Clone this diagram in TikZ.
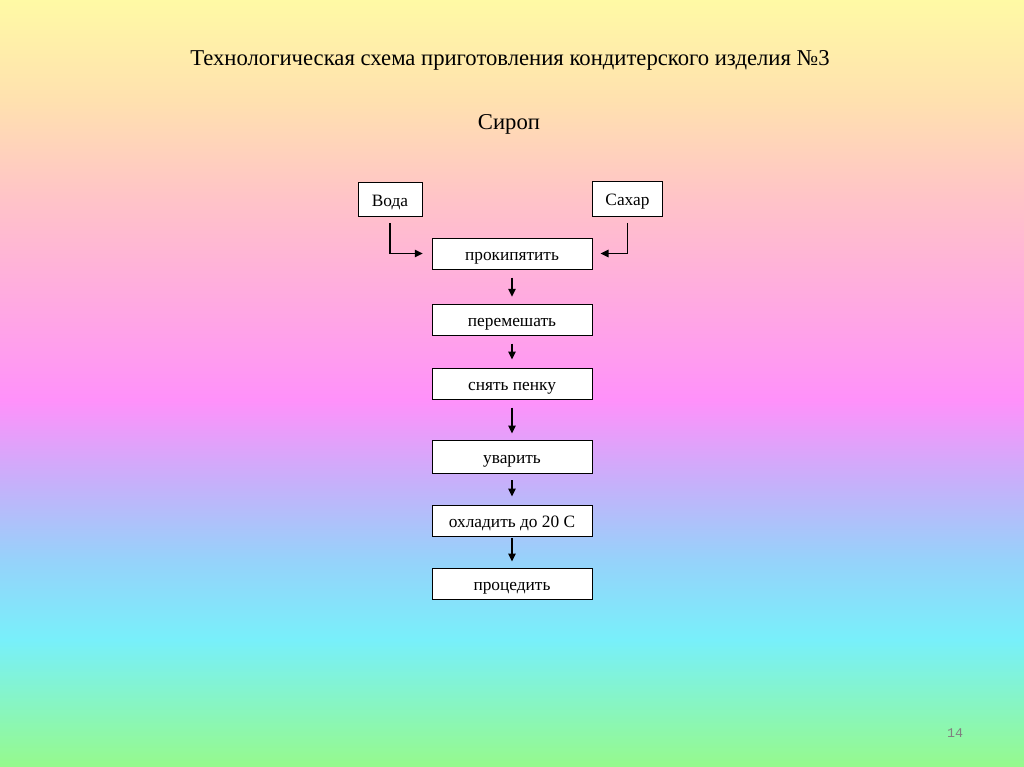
\documentclass[tikz,border=0pt]{standalone}
\usepackage{fontspec}
\setmainfont{Liberation Serif}
\newfontfamily\pagenofont{Liberation Mono}
\usetikzlibrary{arrows.meta,positioning}

\definecolor{bgYellow}{RGB}{255,250,165}
\definecolor{bgPeach}{RGB}{255,225,175}
\definecolor{bgRose}{RGB}{255,195,200}
\definecolor{bgPink}{RGB}{255,170,225}
\definecolor{bgMagenta}{RGB}{255,145,250}
\definecolor{bgLilac}{RGB}{200,175,250}
\definecolor{bgSky}{RGB}{150,210,250}
\definecolor{bgCyan}{RGB}{120,240,250}
\definecolor{bgGreen}{RGB}{150,250,140}

\tikzset{
  stepbox/.style={draw,line width=.75pt,fill=white,inner sep=0pt,
    minimum width=120pt,minimum height=23.25pt,text height=10pt,text depth=0pt,
    font=\fontsize{13}{15}\selectfont},
  srcbox/.style={stepbox,minimum height=26pt},
  heading/.style={anchor=base,font=\fontsize{17}{20}\selectfont},
  flow/.style={line width=1.2pt,-{Triangle[length=6pt,width=5.5pt]}}
}

\begin{document}
\begin{tikzpicture}[x=.75pt,y=-.75pt]
  \useasboundingbox (0,0) rectangle (1024,767);
  % background
  \shade[top color=bgYellow,bottom color=bgPeach] (0,0) rectangle (1024,100);
  \shade[top color=bgPeach,bottom color=bgRose] (0,100) rectangle (1024,200);
  \shade[top color=bgRose,bottom color=bgPink] (0,200) rectangle (1024,300);
  \shade[top color=bgPink,bottom color=bgMagenta] (0,300) rectangle (1024,400);
  \shade[top color=bgMagenta,bottom color=bgLilac] (0,400) rectangle (1024,480);
  \shade[top color=bgLilac,bottom color=bgSky] (0,480) rectangle (1024,560);
  \shade[top color=bgSky,bottom color=bgCyan] (0,560) rectangle (1024,640);
  \shade[top color=bgCyan,bottom color=bgGreen] (0,640) rectangle (1024,767);

  \node[heading] (title) at (510,65) {Технологическая схема приготовления кондитерского изделия №3};
  \node[heading] (syrup) at (509,129) {Сироп};

  \node[srcbox,minimum width=48pt] (water) at (390,199.5) {Вода};
  \node[srcbox,minimum width=53pt] (sugar) at (627.5,199) {Сахар};

  \node[stepbox] (boil) at (512,253.5) {прокипятить};
  \node[stepbox] (mix) at (512,319.5) {перемешать};
  \node[stepbox] (skim) at (512,383.5) {снять пенку};
  \node[stepbox,minimum height=24.75pt] (reduce) at (512,456.5) {уварить};
  \node[stepbox] (cool) at (512,520.5) {охладить до 20 С};
  \node[stepbox] (strain) at (512,583.5) {процедить};

  \draw[flow,shorten <=4.5pt,shorten >=6.5pt] (water) |- (boil);
  \draw[flow,shorten <=4.5pt,shorten >=6pt] (sugar) |- (boil);

  \draw[flow,shorten <=6pt,shorten >=5pt] (boil) -- (mix);
  \draw[flow,shorten <=6pt,shorten >=6pt] (mix) -- (skim);
  \draw[flow,shorten <=6pt,shorten >=4.5pt] (skim) -- (reduce);
  \draw[flow,shorten <=5pt,shorten >=6pt] (reduce) -- (cool);
  \draw[flow,shorten <=1pt,shorten >=4.5pt] (cool) -- (strain);

  \node[text=gray,font=\pagenofont\fontsize{10}{12}\selectfont] (pageno) at (955,733) {14};
\end{tikzpicture}
\end{document}
